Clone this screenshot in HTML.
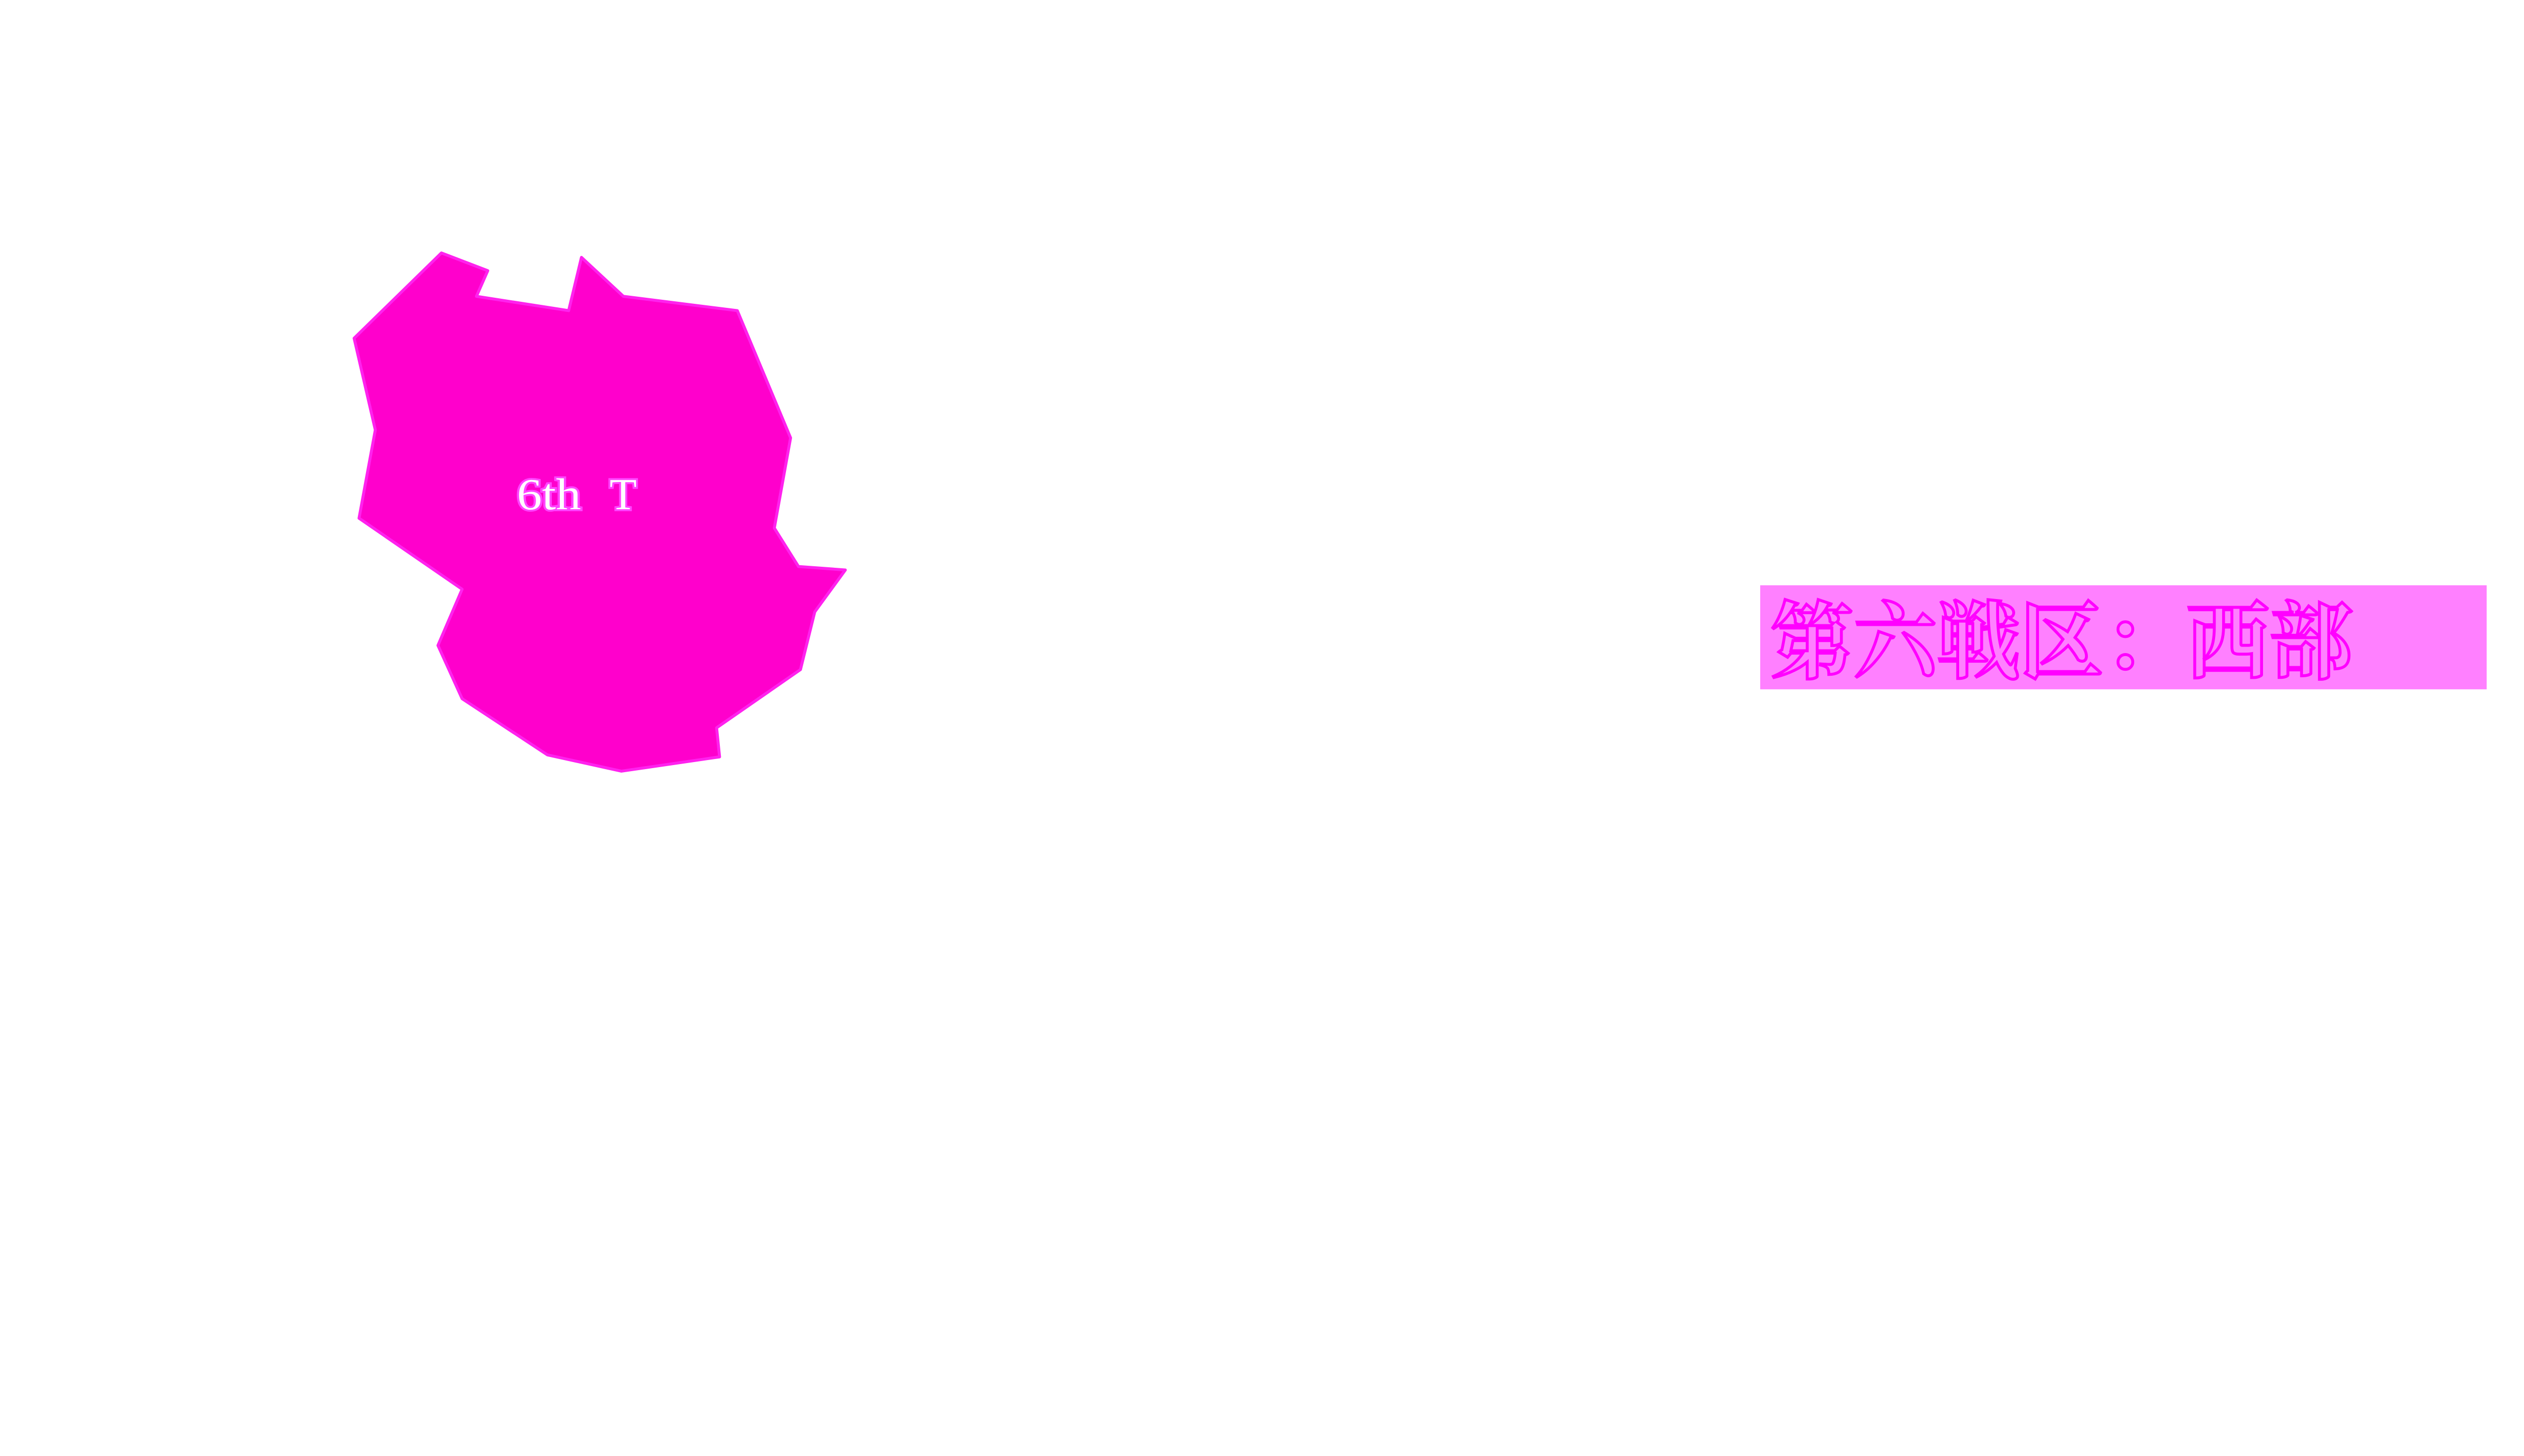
<!DOCTYPE html>
<html><head><meta charset="utf-8"><style>
html,body{margin:0;padding:0;background:#fff;}
</style></head><body>
<svg width="5120" height="2880" viewBox="0 0 5120 2880" xmlns="http://www.w3.org/2000/svg">
<rect width="5120" height="2880" fill="#fff"/>
<g transform="scale(0.977)">
<polygon fill="#ff00cc" stroke="#ff22ee" stroke-width="6" stroke-linejoin="round" points="895,513 989,549 966,601 1153,630 1179,522 1264,601 1495,630 1603,888 1570,1071 1619,1149 1714,1156 1652,1241 1623,1358 1453,1476 1459,1535 1260,1564 1110,1531 937,1417 888,1309 937,1195 728,1051 761,872 718,686"/>
<text x="1048" y="1033" font-family="Liberation Serif, serif" font-size="90" fill="#fff" stroke="#ff44ff" stroke-width="8" paint-order="stroke" textLength="130" lengthAdjust="spacingAndGlyphs">6th</text>
<text x="1236" y="1033" font-family="Liberation Serif, serif" font-size="90" fill="#fff" stroke="#ff44ff" stroke-width="8" paint-order="stroke">T</text>
<rect x="3569" y="1187" width="1473" height="211" fill="#ff80ff"/>
<text x="3590" y="1362" font-family="Liberation Serif, Noto Serif CJK SC, serif" font-weight="bold" font-size="172" fill="#ff80ff" stroke="#ff00ff" stroke-width="6" textLength="1180" lengthAdjust="spacingAndGlyphs">第六戦区：西部</text>
</g>
</svg>
</body></html>
